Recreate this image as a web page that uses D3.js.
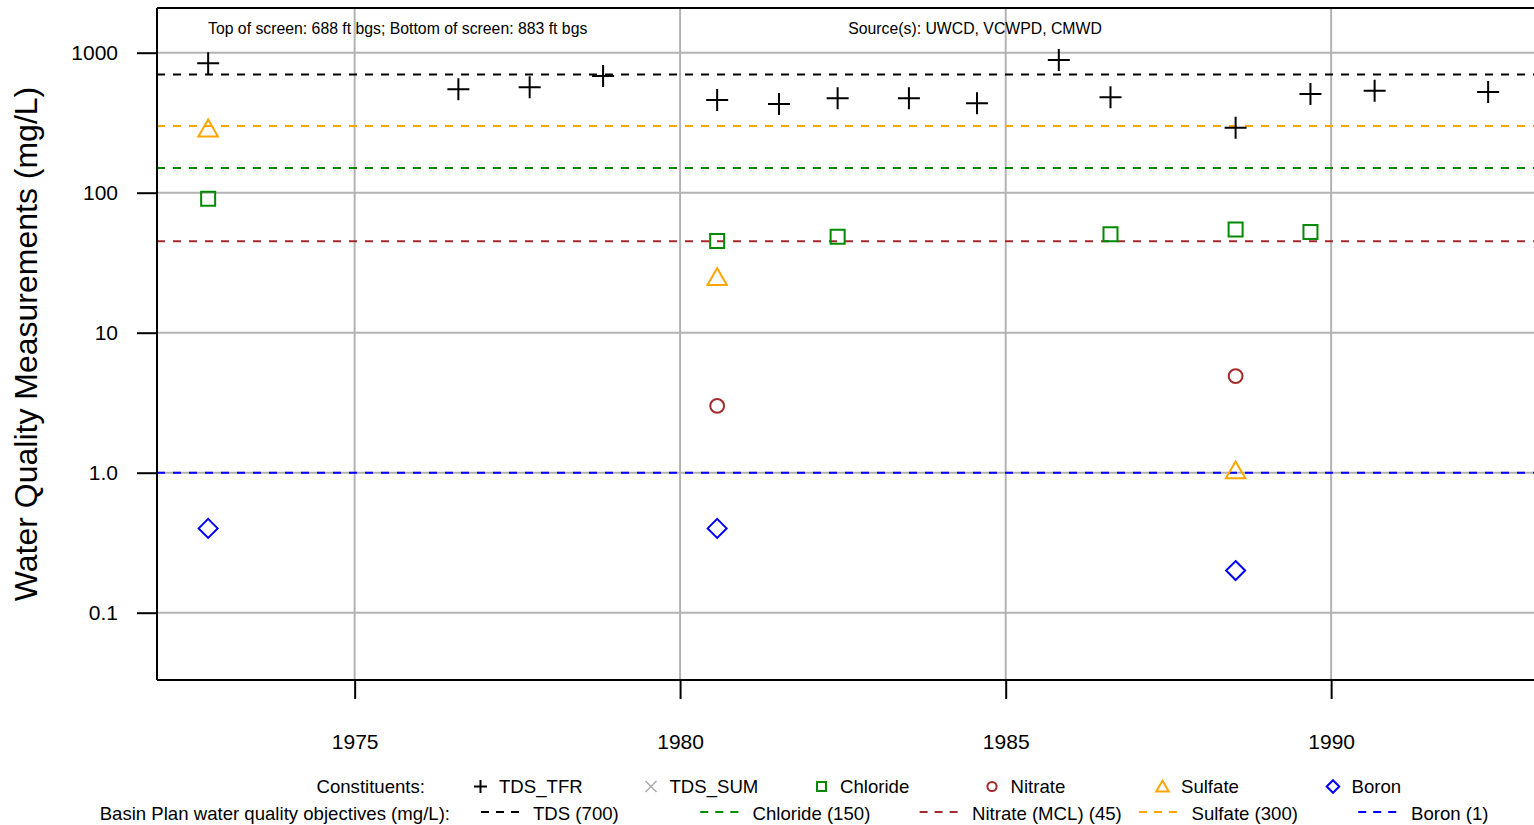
<!DOCTYPE html>
<html><head><meta charset="utf-8">
<script src="https://cdn.jsdelivr.net/npm/d3@7"></script>
<style>body{margin:0;background:#fff}svg{display:block;font-family:"Liberation Sans",Arial,Helvetica,sans-serif}</style>
</head><body><svg id="c" width="1534" height="825"></svg>
<script>
// ---------- data ----------
const tdsDates = ["1972-10-01","1976-08-05","1977-09-09","1978-10-26","1980-07-27","1981-07-09","1982-06-03","1983-07-08","1984-07-24","1985-10-26","1986-08-12","1988-07-14","1989-09-07","1990-09-02","1992-05-31"];
const tdsTfrValues = [840,548,566,682,459,430,472,472,435,887,480,291,507,535,524];
const chlorideDates = ["1972-10-01","1980-07-27","1982-06-03","1986-08-12","1988-07-14","1989-09-07"];
const chlorideValues = [90.6,45.1,48.5,50.4,54.5,52.5];
const sulfateDates = ["1972-10-01","1980-07-27","1988-07-14"];
const sulfateValues = [277,24,1.0];
const nitrateDates = ["1980-07-27","1988-07-14"];
const nitrateValues = [3.0,4.9];
const boronDates = ["1972-10-01","1980-07-27","1988-07-14"];
const boronValues = [0.4,0.4,0.2];

const constituentNames = ["TDS_TFR","TDS_SUM","Chloride","Nitrate","Sulfate","Boron"];
const constituentColors = ["#000000","#aaaaaa","#008b00","#a52a2a","#ffa500","#0000ff"];
const objectiveNames = ["TDS (700)","Chloride (150)","Nitrate (MCL) (45)","Sulfate (300)","Boron (1)"];
const objectiveValues = [700,150,45,300,1];
const objectiveColors = ["#000000","#008b00","#a52a2a","#ffa500","#0000ff"];
const yTickValues = [0.1,1,10,100,1000];
const yTickLabels = ["0.1","1.0","10","100","1000"];
const xTickYears = [1975,1980,1985,1990];
const topLeftNote = "Top of screen: 688 ft bgs; Bottom of screen: 883 ft bgs";
const topRightNote = "Source(s): UWCD, VCWPD, CMWD";
const yTitle = "Water Quality Measurements (mg/L)";

// ---------- layout ----------
const svg = d3.select("#c");
const L = 157, R = 1545, T = 8, B = 680;
const parse = d3.timeParse("%Y-%m-%d");
const x = d3.scaleTime().domain([parse("1971-12-19"), parse("1993-04-15")]).range([L, R]);
const y = d3.scaleLog().domain([0.1, 1000]).range([612.7, 52.7]);

svg.append("defs").append("clipPath").attr("id","clip")
  .append("rect").attr("x",L).attr("y",T).attr("width",R-L).attr("height",B-T);

const grid = svg.append("g").attr("stroke","#b3b3b3").attr("stroke-width",2);
grid.selectAll("line.h").data(yTickValues).join("line")
  .attr("x1",L).attr("x2",R).attr("y1",d=>y(d)).attr("y2",d=>y(d));
grid.selectAll("line.v").data(xTickYears).join("line")
  .attr("x1",d=>x(new Date(d,0,1))).attr("x2",d=>x(new Date(d,0,1))).attr("y1",T).attr("y2",B);

// objective lines
const plot = svg.append("g").attr("clip-path","url(#clip)");
plot.selectAll("line.obj").data(objectiveValues).join("line")
  .attr("x1",L).attr("x2",R).attr("y1",d=>y(d)).attr("y2",d=>y(d))
  .attr("stroke",(d,i)=>objectiveColors[i]).attr("stroke-width",2).attr("stroke-dasharray","8,8");

// symbols
function plusPath(s){return `M${-s},0H${s}M0,${-s}V${s}`;}
function xPath(s){return `M${-s},${-s}L${s},${s}M${-s},${s}L${s},${-s}`;}
function squarePath(s){return `M${-s},${-s}H${s}V${s}H${-s}Z`;}
function diamondPath(s){return `M0,${-s}L${s},0L0,${s}L${-s},0Z`;}
function circlePath(r){return d3.symbol(d3.symbolCircle, Math.PI*r*r)();}
function trianglePath(side){return d3.symbol(d3.symbolTriangle, side*side*Math.sqrt(3)/4)();}

function drawSeries(dates, values, path, color){
  plot.append("g").selectAll("path").data(values).join("path")
    .attr("transform",(d,i)=>`translate(${x(parse(dates[i]))},${y(d)})`)
    .attr("d",path).attr("fill","none").attr("stroke",color).attr("stroke-width",2);
}
drawSeries(tdsDates, tdsTfrValues, plusPath(11), constituentColors[0]);
drawSeries(chlorideDates, chlorideValues, squarePath(7), constituentColors[2]);
drawSeries(nitrateDates, nitrateValues, circlePath(6.9), constituentColors[3]);
drawSeries(sulfateDates, sulfateValues, trianglePath(19.5), constituentColors[4]);
drawSeries(boronDates, boronValues, diamondPath(9.5), constituentColors[5]);

// axes / frame
const axisG = svg.append("g").attr("stroke","#000").attr("stroke-width",2);
axisG.append("line").attr("x1",L).attr("x2",R).attr("y1",T).attr("y2",T);
axisG.append("line").attr("x1",L).attr("x2",R).attr("y1",B).attr("y2",B);
axisG.append("line").attr("x1",L).attr("x2",L).attr("y1",T).attr("y2",B);

const yAxis = d3.axisLeft(y).tickValues(yTickValues).tickSize(20).tickPadding(19)
  .tickFormat((d,i)=>yTickLabels[i]);
const yg = svg.append("g").attr("transform",`translate(${L},0)`).call(yAxis);
yg.select(".domain").remove();
yg.selectAll(".tick line").attr("stroke","#000").attr("stroke-width",2);
yg.selectAll(".tick text").attr("font-size",21).attr("fill","#000").attr("font-family","Liberation Sans, Arial, sans-serif");

const xAxis = d3.axisBottom(x).tickValues(xTickYears.map(d=>new Date(d,0,1))).tickSize(19).tickPadding(34)
  .tickFormat(d3.timeFormat("%Y"));
const xg = svg.append("g").attr("transform",`translate(0,${B})`).call(xAxis);
xg.select(".domain").remove();
xg.selectAll(".tick line").attr("stroke","#000").attr("stroke-width",2);
xg.selectAll(".tick text").attr("font-size",21).attr("fill","#000").attr("dy","0").attr("y",69)
  .attr("font-family","Liberation Sans, Arial, sans-serif");

// notes
svg.append("text").attr("x",208).attr("y",33.5).attr("font-size",15.8).text(topLeftNote);
svg.append("text").attr("x",975).attr("y",33.5).attr("font-size",15.8).attr("text-anchor","middle").text(topRightNote);

// y title
svg.append("text").attr("transform",`translate(37,344) rotate(-90)`).attr("text-anchor","middle")
  .attr("font-size",32).text(yTitle);

// legend
const leg = svg.append("g").attr("font-size",18.6);
leg.append("text").attr("x",425).attr("y",793).attr("text-anchor","end").text("Constituents:");
leg.append("text").attr("x",450).attr("y",820).attr("text-anchor","end").text("Basin Plan water quality objectives (mg/L):");
const legPaths = [plusPath(6.5), xPath(5.5), squarePath(4.5), circlePath(4.6), trianglePath(12.5), diamondPath(6.3)];
constituentNames.forEach((n,i)=>{
  const cx = 480.5 + 170.5*i;
  leg.append("path").attr("transform",`translate(${cx},${i===4?788:786.5})`).attr("d",legPaths[i])
    .attr("fill","none").attr("stroke",constituentColors[i]).attr("stroke-width",i===1?1.5:2);
  leg.append("text").attr("x",cx+18.5).attr("y",793).text(n);
});
objectiveNames.forEach((n,i)=>{
  const lx = 481 + 219.3*i;
  leg.append("line").attr("x1",lx).attr("x2",lx+38).attr("y1",812).attr("y2",812)
    .attr("stroke",objectiveColors[i]).attr("stroke-width",2).attr("stroke-dasharray","8,7");
  leg.append("text").attr("x",533+219.5*i).attr("y",820).text(n);
});
</script></body></html>
